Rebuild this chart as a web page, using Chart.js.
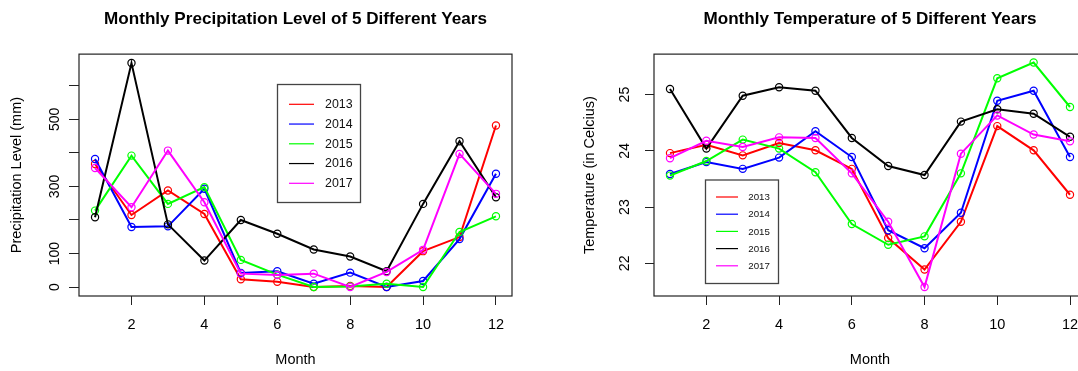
<!DOCTYPE html>
<html>
<head>
<meta charset="utf-8">
<script src="https://cdn.jsdelivr.net/npm/chart.js@4"></script>
<style>
  html, body { margin: 0; padding: 0; background: #fff; overflow: hidden; }
  body { width: 1078px; height: 371px; position: relative; }
  canvas { position: absolute; top: 0; }
  #graficoChuva { left: 0; }
  #graficoTemp { left: 540px; }
</style>
</head>
<body>
<canvas id="graficoChuva" width="540" height="371"></canvas>
<canvas id="graficoTemp" width="560" height="371"></canvas>
<script>
const meses = [1, 2, 3, 4, 5, 6, 7, 8, 9, 10, 11, 12];
const anos = ["2013", "2014", "2015", "2016", "2017"];
const cores = ["#ff0000", "#0000ff", "#00ff00", "#000000", "#ff00ff"];

// precipitacao mensal (mm)
const chuva2013 = [367, 215, 288, 218, 23, 16, 0, 3, 0, 107, 149, 482];
const chuva2014 = [382, 179, 181, 293, 42, 47, 10, 43, 0, 18, 143, 338];
const chuva2015 = [228, 392, 248, 298, 81, 37, 0, 2, 10, 0, 164, 211];
const chuva2016 = [208, 668, 187, 79, 200, 159, 112, 91, 47, 248, 435, 268];
const chuva2017 = [355, 238, 407, 253, 40, 36, 40, 0, 45, 111, 397, 278];

// temperatura media mensal (C)
const temp2013 = [23.96, 24.11, 23.92, 24.14, 24.01, 23.68, 22.45, 21.89, 22.74, 24.44, 24.01, 23.22];
const temp2014 = [23.59, 23.80, 23.68, 23.88, 24.35, 23.89, 22.59, 22.27, 22.90, 24.89, 25.07, 23.89];
const temp2015 = [23.56, 23.82, 24.20, 24.04, 23.62, 22.70, 22.33, 22.48, 23.60, 25.29, 25.57, 24.78];
const temp2016 = [25.10, 24.04, 24.98, 25.13, 25.07, 24.23, 23.73, 23.57, 24.52, 24.74, 24.66, 24.25];
const temp2017 = [23.87, 24.18, 24.07, 24.24, 24.23, 23.60, 22.74, 21.58, 23.95, 24.63, 24.29, 24.17];

const ticksMes = [2, 4, 6, 8, 10, 12];
const ticksChuva = [0, 100, 200, 300, 400, 500, 600];
const rotulosChuva = [0, 100, 300, 500];
const ticksTemp = [22, 23, 24, 25];
const rotulosTemp = [22, 23, 24, 25];

const FONTE = "'Liberation Sans', Arial, Helvetica, sans-serif";
Chart.defaults.font.family = FONTE;
Chart.defaults.color = "#000";

// caixa do grafico, rotulos verticais do eixo y e legenda com moldura
const molduraPlugin = {
  id: "moldura",
  afterDraw(chart, args, opts) {
    const { ctx, chartArea: a } = chart;
    const escalaY = chart.scales.y;
    ctx.save();
    ctx.strokeStyle = "#222";
    ctx.lineWidth = 1.2;
    ctx.strokeRect(a.left, a.top, a.right - a.left, a.bottom - a.top);

    ctx.fillStyle = "#000";
    ctx.font = `14px ${FONTE}`;
    ctx.textAlign = "center";
    ctx.textBaseline = "alphabetic";
    opts.rotulosY.forEach((v) => {
      ctx.save();
      ctx.translate(a.left - opts.recuoY, escalaY.getPixelForValue(v));
      ctx.rotate(-Math.PI / 2);
      ctx.fillText(String(v), 0, 0);
      ctx.restore();
    });

    const L = opts.legenda;
    ctx.fillStyle = "#fff";
    ctx.fillRect(L.x, L.y, L.w, L.h);
    ctx.strokeStyle = "#444";
    ctx.lineWidth = 1.3;
    ctx.strokeRect(L.x, L.y, L.w, L.h);
    ctx.font = `${L.fonte}px ${FONTE}`;
    ctx.textAlign = "left";
    ctx.textBaseline = "middle";
    chart.data.datasets.forEach((ds, i) => {
      const ly = L.linha0 + i * L.passo;
      ctx.strokeStyle = ds.borderColor;
      ctx.lineWidth = 1.2;
      ctx.beginPath();
      ctx.moveTo(L.x1, ly);
      ctx.lineTo(L.x2, ly);
      ctx.stroke();
      ctx.fillStyle = "#111";
      ctx.fillText(ds.label, L.xt, ly + 0.5);
    });
    ctx.restore();
  },
};

function montarSeries(listas) {
  return listas.map((serie, i) => ({
    label: anos[i],
    data: meses.map((m, k) => ({ x: m, y: serie[k] })),
    borderColor: cores[i],
    backgroundColor: "rgba(0,0,0,0)",
    borderWidth: 2,
    pointRadius: 3.6,
    pointBorderWidth: 1.2,
    pointBorderColor: cores[i],
    pointBackgroundColor: "rgba(0,0,0,0)",
    tension: 0,
    order: listas.length - 1 - i,
  }));
}

function gerarGrafico(id, cfg) {
  const ctx = document.getElementById(id).getContext("2d");
  return new Chart(ctx, {
    type: "line",
    data: { datasets: montarSeries(cfg.series) },
    options: {
      responsive: false,
      animation: false,
      devicePixelRatio: 1,
      layout: { padding: { left: cfg.padEsq, right: cfg.padDir, top: 0, bottom: 0 } },
      plugins: {
        legend: { display: false },
        tooltip: { enabled: false },
        title: {
          display: true,
          text: cfg.titulo,
          fullSize: false,
          color: "#000",
          font: { size: 17.1, weight: "bold", family: FONTE },
          padding: { top: 8.8, bottom: 24.8 },
        },
        moldura: { rotulosY: cfg.rotulosY, recuoY: cfg.recuoY, legenda: cfg.legenda },
      },
      scales: {
        x: {
          type: "linear",
          min: 0.56,
          max: 12.44,
          afterBuildTicks: (s) => { s.ticks = ticksMes.map((v) => ({ value: v })); },
          afterFit: (s) => { s.height = 75; },
          grid: { drawOnChartArea: false, drawTicks: true, tickLength: 9, color: "#222", lineWidth: 1 },
          border: { display: false },
          ticks: { padding: 11.3, autoSkip: false, maxRotation: 0, color: "#000", font: { size: 14.5 } },
          title: {
            display: true,
            text: "Month",
            color: "#000",
            font: { size: 14.5 },
            padding: { top: 0, bottom: 2.3 },
          },
        },
        y: {
          type: "linear",
          min: cfg.yMin,
          max: cfg.yMax,
          afterBuildTicks: (s) => { s.ticks = cfg.ticksY.map((v) => ({ value: v })); },
          afterFit: (s) => { s.width = cfg.larguraY; },
          grid: { drawOnChartArea: false, drawTicks: true, tickLength: cfg.tickY, color: "#222", lineWidth: 1 },
          border: { display: false },
          ticks: { display: false },
          title: {
            display: true,
            text: cfg.tituloY,
            color: "#000",
            font: { size: 14.5 },
            padding: { top: 8.4, bottom: 0 },
          },
        },
      },
    },
    plugins: [molduraPlugin],
  });
}

gerarGrafico("graficoChuva", {
  titulo: "Monthly Precipitation Level of 5 Different Years",
  tituloY: "Precipitation Level (mm)",
  series: [chuva2013, chuva2014, chuva2015, chuva2016, chuva2017],
  yMin: -26.7,
  yMax: 694.7,
  ticksY: ticksChuva,
  rotulosY: rotulosChuva,
  recuoY: 19.7,
  tickY: 10,
  larguraY: 79,
  padEsq: 0,
  padDir: 28,
  legenda: { x: 277.5, y: 84.5, w: 83, h: 118, x1: 289, x2: 314, xt: 325, linha0: 104.3, passo: 19.75, fonte: 12.4 },
});

gerarGrafico("graficoTemp", {
  titulo: "Monthly Temperature of 5 Different Years",
  tituloY: "Temperature (in Celcius)",
  series: [temp2013, temp2014, temp2015, temp2016, temp2017],
  yMin: 21.42,
  yMax: 25.72,
  ticksY: ticksTemp,
  rotulosY: rotulosTemp,
  recuoY: 25.5,
  tickY: 9,
  larguraY: 81,
  padEsq: 33,
  padDir: 14,
  legenda: { x: 165.5, y: 180, w: 73, h: 103.5, x1: 176, x2: 198, xt: 208.3, linha0: 197, passo: 17.2, fonte: 9.7 },
});
</script>
</body>
</html>
